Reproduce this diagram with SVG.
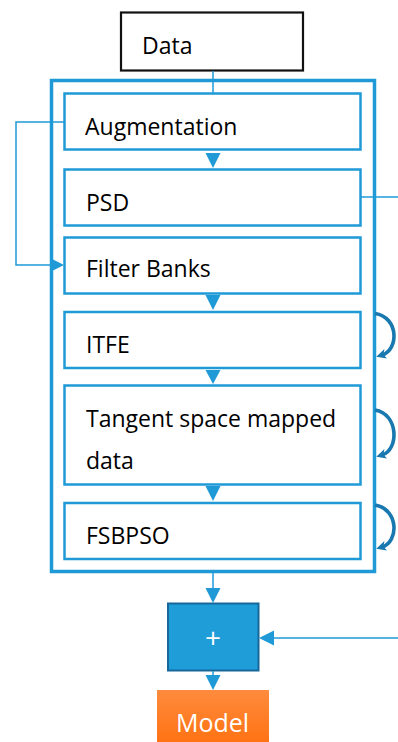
<svg xmlns="http://www.w3.org/2000/svg" width="398" height="742" viewBox="0 0 398 742">
  <style>
    .lbl { font-family: "Open Sans", "Liberation Sans", sans-serif; font-size: 23px; fill: #000; }
    .step { fill: #fff; stroke: #1f9ad7; stroke-width: 2.5; }
    .wire { fill: none; stroke: #1f9ad7; stroke-width: 1.5; }
    .tri { fill: #1f9ad7; }
    .loop { fill: none; stroke: #1a78b0; stroke-width: 3.6; }
    .white { font-family: "Open Sans", "Liberation Sans", sans-serif; fill: #fff; }
  </style>
  <defs>
    <linearGradient id="orangeFill" x1="0" y1="0" x2="0" y2="1">
      <stop offset="0" stop-color="#ff8b3d"/>
      <stop offset="1" stop-color="#ff6f0d"/>
    </linearGradient>
    <marker id="loopHead" markerWidth="10" markerHeight="10" refX="4" refY="5" orient="auto" markerUnits="userSpaceOnUse">
      <path d="M0,0 L10,5 L0,10 L2.5,5 Z" fill="#1a78b0"/>
    </marker>
  </defs>

  <rect width="398" height="742" fill="#fff"/>

  <!-- outer pipeline frame -->
  <g id="frame">
    <rect x="51.5" y="80.5" width="323" height="491" fill="none" stroke="#1f9ad7" stroke-width="3.5"/>
  </g>

  <g id="data">
    <rect x="121" y="12.5" width="182" height="58" fill="#fff" stroke="#111" stroke-width="2.2"/>
    <text class="lbl" x="142" y="54">Data</text>
  </g>

  <g id="augmentation">
    <rect class="step" x="64.5" y="93.5" width="296" height="56"/>
    <text class="lbl" x="85" y="135">Augmentation</text>
  </g>

  <g id="psd">
    <rect class="step" x="64.5" y="169.5" width="296" height="56"/>
    <text class="lbl" x="86" y="211">PSD</text>
  </g>

  <g id="filter-banks">
    <rect class="step" x="64.5" y="237.5" width="296" height="56"/>
    <text class="lbl" x="86" y="277">Filter Banks</text>
  </g>

  <g id="itfe">
    <rect class="step" x="64.5" y="312" width="296" height="56"/>
    <text class="lbl" x="86" y="353">ITFE</text>
  </g>

  <g id="tangent">
    <rect class="step" x="64.5" y="385.5" width="296" height="99"/>
    <text class="lbl" x="86" y="427">Tangent space mapped</text>
    <text class="lbl" x="86" y="469">data</text>
  </g>

  <g id="fsbpso">
    <rect class="step" x="64.5" y="503" width="296" height="56"/>
    <text class="lbl" x="86" y="544">FSBPSO</text>
  </g>

  <g id="sum">
    <rect x="168" y="603.5" width="90.5" height="67" fill="#1f9dd9" stroke="#16679a" stroke-width="2"/>
    <text class="white" x="213" y="648" font-size="28" text-anchor="middle">+</text>
  </g>

  <g id="model">
    <rect x="157" y="690" width="112" height="60" fill="url(#orangeFill)"/>
    <text class="white" x="212.5" y="732" font-size="25" text-anchor="middle">Model</text>
  </g>

  <g id="connectors">
    <!-- data into first stage -->
    <line class="wire" x1="213" y1="71" x2="213" y2="93"/>
    <!-- stage-to-stage arrows -->
    <path class="tri" d="M205.5,153 L220.5,153 L213,168 Z"/>
    <path class="tri" d="M205.5,295 L220.5,295 L213,310 Z"/>
    <path class="tri" d="M205.5,370 L220.5,370 L213,384 Z"/>
    <path class="tri" d="M205.5,486 L220.5,486 L213,501 Z"/>
    <!-- augmentation bypass into filter banks -->
    <polyline class="wire" points="64,122 16,122 16,265 52,265"/>
    <path class="tri" d="M50,258 L64,265 L50,272 Z"/>
    <!-- PSD branch leaving right -->
    <line class="wire" x1="361" y1="197" x2="398" y2="197"/>
    <!-- branch returning into the sum -->
    <line class="wire" x1="398" y1="638" x2="272" y2="638"/>
    <path class="tri" d="M274,630.5 L259,638 L274,645.5 Z"/>
    <!-- pipeline output into the sum -->
    <line class="wire" x1="213" y1="573" x2="213" y2="590"/>
    <path class="tri" d="M205.5,588 L220.5,588 L213,603 Z"/>
    <!-- sum to model -->
    <line class="wire" x1="213" y1="671" x2="213" y2="677"/>
    <path class="tri" d="M205.5,675 L220.5,675 L213,690 Z"/>
    <!-- iteration loops -->
    <path class="loop" d="M375,313.5 C399,317 399,350 382,355" marker-end="url(#loopHead)"/>
    <path class="loop" d="M375,410 C399,414 399,450 382,455" marker-end="url(#loopHead)"/>
    <path class="loop" d="M375,505 C399,509 399,542 382,547" marker-end="url(#loopHead)"/>
  </g>
</svg>
